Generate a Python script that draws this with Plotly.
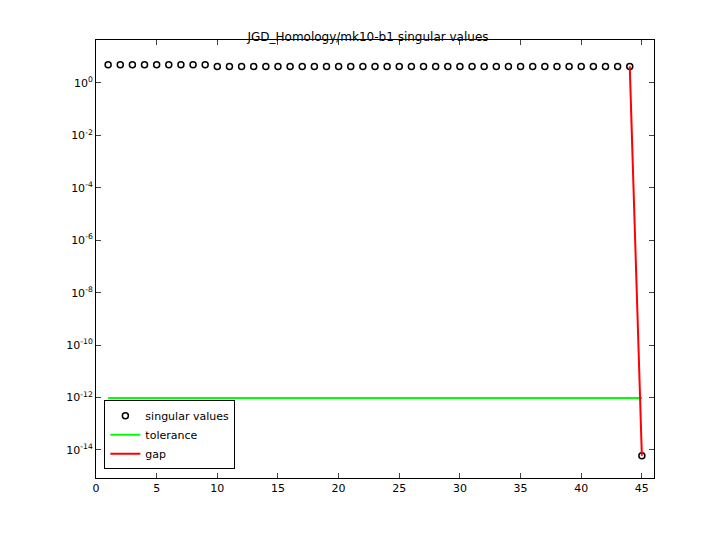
import plotly.graph_objs as go

idx = list(range(1, 46))
sv = [5.0] * 9 + [4.3] * 35 + [6.0e-15]
tolerance = 9.5e-13
tol_x = [1, 45]
gap_x = [44, 45]
gap_y = [sv[43], sv[44]]

fig = go.Figure()
fig.add_trace(go.Scatter(x=idx, y=sv, mode='markers', name='singular values',
                         marker=dict(symbol='circle-open', size=6, color='black',
                                     line=dict(width=1.5))))
fig.add_trace(go.Scatter(x=tol_x, y=[tolerance] * 2, mode='lines', name='tolerance',
                         line=dict(color='#00ff00', width=2)))
fig.add_trace(go.Scatter(x=gap_x, y=gap_y, mode='lines', name='gap',
                         line=dict(color='red', width=2)))

tickv = [10 ** e for e in range(0, -16, -2)]
tickt = ['10<sup>%d</sup>' % e for e in range(0, -16, -2)]
ax = dict(showline=True, mirror='ticks', linecolor='black', showgrid=False, zeroline=False,
          ticks='inside', ticklen=5, tickfont=dict(family='DejaVu Sans', size=11, color='black'))
fig.update_layout(
    width=720, height=540,
    paper_bgcolor='white', plot_bgcolor='white',
    margin=dict(l=88, r=74, t=32, b=70),
    title=dict(text='JGD_Homology/mk10-b1 singular values', x=0.5, y=0.955,
               font=dict(family='DejaVu Sans', size=12, color='black')),
    showlegend=True,
    legend=dict(x=0.015, y=0.02, xanchor='left', yanchor='bottom', bgcolor='white',
                bordercolor='black', borderwidth=1, tracegroupgap=0,
                font=dict(family='DejaVu Sans', size=11, color='black')),
)
fig.update_xaxes(range=[0, 46], tickvals=list(range(0, 50, 5)), **ax)
fig.update_yaxes(type='log', range=[-15.07, 1.64], tickvals=tickv, ticktext=tickt, **ax)
fig.write_html('out.html')
